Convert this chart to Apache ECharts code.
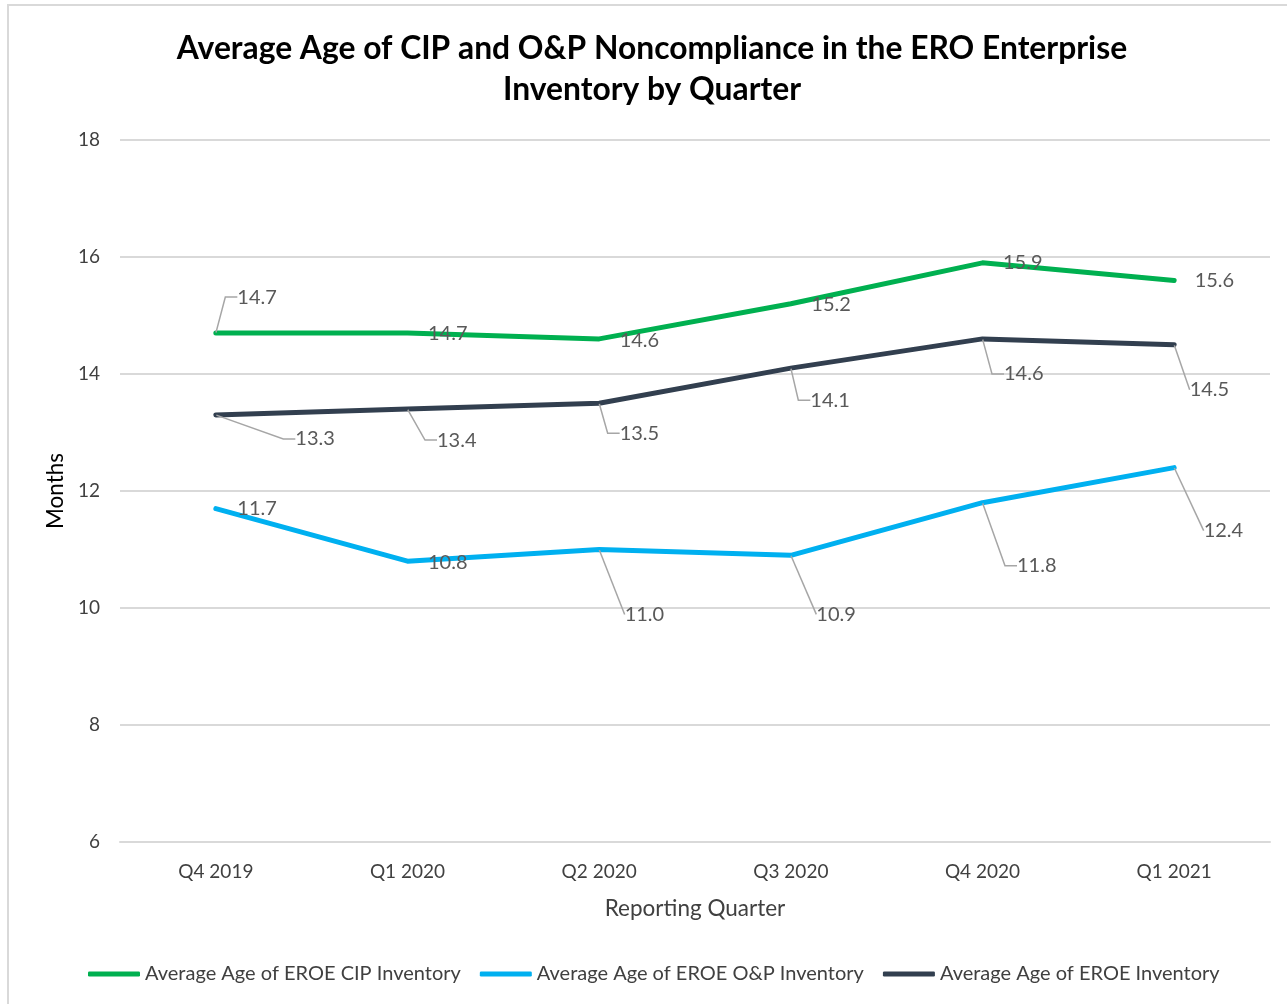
<!DOCTYPE html>
<html><head><meta charset="utf-8">
<script src="https://cdn.jsdelivr.net/npm/echarts@6/dist/echarts.min.js"></script>
<style>html,body{margin:0;padding:0;background:#fff}#c{width:1287px;height:1004px}</style>
</head><body><div id="c"></div>
<script>
const quarters = ['Q4 2019', 'Q1 2020', 'Q2 2020', 'Q3 2020', 'Q4 2020', 'Q1 2021'];
const cipAge = [14.7, 14.7, 14.6, 15.2, 15.9, 15.6];
const opAge = [11.7, 10.8, 11.0, 10.9, 11.8, 12.4];
const allAge = [13.3, 13.4, 13.5, 14.1, 14.6, 14.5];
const seriesNames = ['Average Age of EROE CIP Inventory', 'Average Age of EROE O&P Inventory', 'Average Age of EROE Inventory'];
const titleText = 'Average Age of CIP and O&P Noncompliance in the ERO Enterprise\nInventory by Quarter';

// label displacement (pixels) for each series' data labels, and whether the leader has an elbow
const labelShift = [
  [[1, -36], [0, 0], [0, 2], [0, 1], [0, 0], [0, 0]],
  [[1, 0], [0, 1], [5, 65], [5, 59], [14, 63], [9, 63]],
  [[59, 24], [9, 31], [0, 30], [-1, 32], [1, 35], [-5, 45]]
];
const leaderElbow = [
  [1, 0, 0, 0, 0, 0],
  [0, 0, 0, 0, 1, 0],
  [1, 1, 1, 1, 1, 0]
];
const colors = ['#00B050', '#00B0F0', '#323F4F'];
const FONT = 'Lato';

function mkSeries(name, data, idx) {
  return {
    name: name, type: 'line',
    data: data.map((v, i) => ({
      value: v,
      labelLine: { show: Math.abs(labelShift[idx][i][1]) > 5, length2: leaderElbow[idx][i] ? 12 : 0 }
    })),
    symbol: 'circle', symbolSize: 1, showSymbol: true,
    lineStyle: { width: 5, color: colors[idx], join: 'round', cap: 'round' },
    itemStyle: { color: colors[idx] },
    label: {
      show: true, position: 'right', distance: 20,
      fontSize: 20, color: '#595959', fontFamily: FONT,
      formatter: p => p.value.toFixed(1)
    },
    labelLine: { show: true, lineStyle: { color: '#a6a6a6', width: 1.5 } },
    labelLayout: p => { const s = labelShift[idx][p.dataIndex]; return { dx: s[0], dy: s[1] }; },
    emphasis: { disabled: true },
    z: 3 - idx
  };
}

const chart = echarts.init(document.getElementById('c'));
chart.setOption({
  animation: false,
  backgroundColor: '#fff',
  textStyle: { fontFamily: FONT },
  title: {
    text: titleText, left: 652, textAlign: 'center', top: 28, padding: 0,
    textStyle: { fontSize: 31.8, fontWeight: 'bold', color: '#000', lineHeight: 41, fontFamily: FONT }
  },
  graphic: [{ type: 'rect', shape: { x: 8, y: 5, width: 1300, height: 1010 }, style: { fill: 'none', stroke: '#d9d9d9', lineWidth: 2 }, silent: true }],
  legend: {
    data: seriesNames, bottom: 20, left: 88, padding: 0,
    icon: 'roundRect', itemWidth: 52, itemHeight: 5, itemGap: 19,
    textStyle: { fontSize: 20, color: '#404040', fontFamily: FONT }
  },
  grid: { left: 120, right: 17, top: 140, bottom: 162 },
  xAxis: {
    type: 'category', data: quarters, boundaryGap: true,
    name: 'Reporting Quarter', nameLocation: 'middle', nameGap: 55,
    nameTextStyle: { fontSize: 22.5, color: '#404040', fontFamily: FONT },
    axisLine: { show: true, lineStyle: { color: '#d9d9d9', width: 2 } },
    axisTick: { show: false },
    axisLabel: { fontSize: 19, color: '#404040', margin: 20, fontFamily: FONT }
  },
  yAxis: {
    type: 'value', min: 6, max: 18, interval: 2,
    name: 'Months', nameLocation: 'middle', nameGap: 52, nameRotate: 90,
    nameTextStyle: { fontSize: 22.5, color: '#000', fontFamily: FONT },
    axisLine: { show: false }, axisTick: { show: false },
    splitLine: { lineStyle: { color: '#d9d9d9', width: 2 } },
    axisLabel: { fontSize: 19, color: '#404040', margin: 20, fontFamily: FONT }
  },
  series: [
    mkSeries(seriesNames[0], cipAge, 0),
    mkSeries(seriesNames[1], opAge, 1),
    mkSeries(seriesNames[2], allAge, 2)
  ]
});
</script></body></html>
